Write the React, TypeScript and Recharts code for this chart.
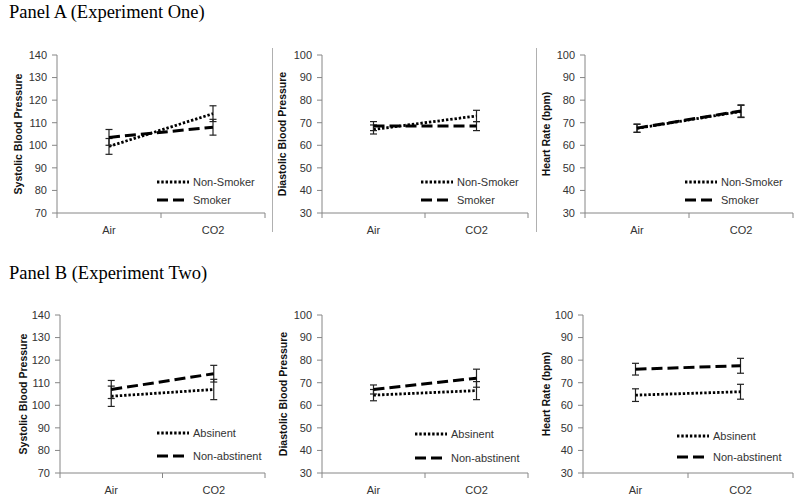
import React from 'react';
import { LineChart, Line, XAxis, YAxis, ErrorBar, Legend } from 'recharts';

// ---------- data ----------
const categories = ['Air', 'CO2'];
const sysTicks = [70, 80, 90, 100, 110, 120, 130, 140];
const rateTicks = [30, 40, 50, 60, 70, 80, 90, 100];

// Panel A (Experiment One)
const nonSmokerSys = [99.5, 114];
const nonSmokerSysErr = [3.5, 3.5];
const smokerSys = [103.5, 108];
const smokerSysErr = [3.5, 3.5];

const nonSmokerDia = [67, 73];
const nonSmokerDiaErr = [2, 2.5];
const smokerDia = [68.5, 68.5];
const smokerDiaErr = [2, 2];

const nonSmokerHR = [67.5, 75];
const nonSmokerHRErr = [1.8, 2.7];
const smokerHR = [67.6, 75.2];
const smokerHRErr = [1.8, 2.7];

// Panel B (Experiment Two)
const absinentSys = [104, 107];
const absinentSysErr = [4.5, 4.5];
const nonAbstinentSys = [107, 114];
const nonAbstinentSysErr = [4, 3.7];

const absinentDia = [64.5, 66.5];
const absinentDiaErr = [2.5, 4];
const nonAbstinentDia = [67, 72];
const nonAbstinentDiaErr = [2, 4];

const absinentHR = [64.5, 66];
const absinentHRErr = [2.8, 3.3];
const nonAbstinentHR = [76, 77.5];
const nonAbstinentHRErr = [2.6, 3.3];

// ---------- helpers ----------
const buildRows = (a: number[], aErr: number[], b: number[], bErr: number[]) =>
  categories.map((c, i) => ({ x: i + 0.5, cat: c, a: a[i], aErr: aErr[i], b: b[i], bErr: bErr[i] }));

const AXIS = '#868686';
const FONT = "'Liberation Sans', Arial, sans-serif";
const SERIF = "'Liberation Serif', 'Times New Roman', serif";
const DOTTED = { strokeWidth: 2.8, strokeDasharray: '2.4 1.9' };
const DASHED = { strokeWidth: 3, strokeDasharray: '11 5' };

const XTick = (props: any) => {
  const { x, y, payload } = props;
  const v = payload.value as number;
  if (Number.isInteger(v)) {
    return <line x1={x} x2={x} y1={y} y2={y + 5} stroke={AXIS} strokeWidth={1} />;
  }
  return (
    <text x={x} y={y + 17} textAnchor="middle" dominantBaseline="central" fill="#333" fontSize={11} fontFamily={FONT}>
      {categories[Math.floor(v)]}
    </text>
  );
};

type PanelProps = {
  left: number;
  top: number;
  yWidth: number;
  plotRight: number;
  domain: [number, number];
  ticks: number[];
  yLabel: string;
  labelOffset: number;
  rows: any[];
  nameA: string;
  nameB: string;
  legendX: number;
  legendY: number;
  legendGap: number;
};

const Panel = (p: PanelProps) => {
  const width = p.plotRight - p.left + 5;
  const legendContent = () => (
    <div style={{ fontFamily: FONT, fontSize: 11, color: '#333' }}>
      {[
        { name: p.nameA, style: DOTTED },
        { name: p.nameB, style: DASHED },
      ].map((s, i) => (
        <div key={i} style={{ display: 'flex', alignItems: 'center', height: p.legendGap, whiteSpace: 'nowrap' }}>
          <svg width={32} height={8} style={{ display: 'block' }}>
            <line x1={0} x2={32} y1={4} y2={4} stroke="#000" {...s.style} />
          </svg>
          <span style={{ marginLeft: 4 }}>{s.name}</span>
        </div>
      ))}
    </div>
  );
  return (
    <div style={{ position: 'absolute', left: p.left, top: p.top }}>
      <LineChart width={width} height={200} data={p.rows} margin={{ top: 15, right: 5, left: 0, bottom: 0 }}>
        <XAxis
          type="number"
          dataKey="x"
          domain={[0, 2]}
          ticks={[0, 0.5, 1, 1.5, 2]}
          interval={0}
          height={27}
          tickSize={0}
          tickMargin={0}
          tickLine={false}
          axisLine={{ stroke: AXIS }}
          tick={<XTick />}
        />
        <YAxis
          type="number"
          width={p.yWidth}
          domain={p.domain}
          ticks={p.ticks}
          interval={0}
          tickSize={5}
          tickMargin={5}
          axisLine={{ stroke: AXIS }}
          tickLine={{ stroke: AXIS }}
          tick={{ fill: '#333', fontSize: 11, fontFamily: FONT }}
          label={(lp: any) => {
            const vb = lp.viewBox || {};
            const cx = vb.x + vb.width - p.labelOffset;
            const cy = vb.y + vb.height / 2;
            return (
              <text
                x={cx}
                y={cy}
                transform={`rotate(-90, ${cx}, ${cy})`}
                textAnchor="middle"
                dominantBaseline="central"
                fontFamily={FONT}
                fontSize={10.5}
                fontWeight="bold"
                fill="#111"
              >
                {p.yLabel}
              </text>
            );
          }}
        />
        <Legend
          layout="vertical"
          align="center"
          verticalAlign="middle"
          content={legendContent}
          wrapperStyle={{ position: 'absolute', left: p.legendX, top: p.legendY, width: 'auto', height: 'auto' }}
        />
        <Line
          type="linear"
          dataKey="a"
          name={p.nameA}
          stroke="#000"
          {...DOTTED}
          dot={false}
          activeDot={false}
          isAnimationActive={false}
        >
          <ErrorBar dataKey="aErr" direction="y" width={3.5} stroke="#222" strokeWidth={1.2} isAnimationActive={false} />
        </Line>
        <Line
          type="linear"
          dataKey="b"
          name={p.nameB}
          stroke="#000"
          {...DASHED}
          dot={false}
          activeDot={false}
          isAnimationActive={false}
        >
          <ErrorBar dataKey="bErr" direction="y" width={3.5} stroke="#222" strokeWidth={1.2} isAnimationActive={false} />
        </Line>
      </LineChart>
    </div>
  );
};

export default function App() {
  return (
    <div
      style={{
        position: 'absolute',
        left: 0,
        top: 0,
        width: 800,
        height: 501,
        background: '#fff',
        overflow: 'hidden',
      }}
    >
      <div style={{ position: 'absolute', left: 9, top: 2, fontFamily: SERIF, fontSize: 18.5, color: '#000' }}>
        Panel A (Experiment One)
      </div>
      <div style={{ position: 'absolute', left: 9, top: 263, fontFamily: SERIF, fontSize: 18.5, color: '#000' }}>
        Panel B (Experiment Two)
      </div>
      <div style={{ position: 'absolute', left: 272, top: 48, width: 1, height: 184, background: '#b0b0b0' }} />
      <div style={{ position: 'absolute', left: 536, top: 48, width: 1, height: 184, background: '#b0b0b0' }} />

      <Panel left={0} top={40} yWidth={57} plotRight={265} domain={[70, 140]} ticks={sysTicks}
        yLabel="Systolic Blood Pressure" labelOffset={39}
        rows={buildRows(nonSmokerSys, nonSmokerSysErr, smokerSys, smokerSysErr)}
        nameA="Non-Smoker" nameB="Smoker" legendX={157} legendY={133} legendGap={18} />
      <Panel left={272} top={40} yWidth={50} plotRight={528} domain={[30, 100]} ticks={rateTicks}
        yLabel="Diastolic Blood Pressure" labelOffset={40}
        rows={buildRows(nonSmokerDia, nonSmokerDiaErr, smokerDia, smokerDiaErr)}
        nameA="Non-Smoker" nameB="Smoker" legendX={149} legendY={133} legendGap={18} />
      <Panel left={536} top={40} yWidth={49} plotRight={793} domain={[30, 100]} ticks={rateTicks}
        yLabel="Heart Rate (bpm)" labelOffset={39}
        rows={buildRows(nonSmokerHR, nonSmokerHRErr, smokerHR, smokerHRErr)}
        nameA="Non-Smoker" nameB="Smoker" legendX={149} legendY={133} legendGap={18} />

      <Panel left={0} top={300} yWidth={60} plotRight={265} domain={[70, 140]} ticks={sysTicks}
        yLabel="Systolic Blood Pressure" labelOffset={37}
        rows={buildRows(absinentSys, absinentSysErr, nonAbstinentSys, nonAbstinentSysErr)}
        nameA="Absinent" nameB="Non-abstinent" legendX={157} legendY={121} legendGap={23} />
      <Panel left={272} top={300} yWidth={50} plotRight={528} domain={[30, 100]} ticks={rateTicks}
        yLabel="Diastolic Blood Pressure" labelOffset={39}
        rows={buildRows(absinentDia, absinentDiaErr, nonAbstinentDia, nonAbstinentDiaErr)}
        nameA="Absinent" nameB="Non-abstinent" legendX={143} legendY={122} legendGap={24} />
      <Panel left={536} top={300} yWidth={47} plotRight={793} domain={[30, 100]} ticks={rateTicks}
        yLabel="Heart Rate (bpm)" labelOffset={37}
        rows={buildRows(absinentHR, absinentHRErr, nonAbstinentHR, nonAbstinentHRErr)}
        nameA="Absinent" nameB="Non-abstinent" legendX={141} legendY={125} legendGap={21} />
    </div>
  );
}
